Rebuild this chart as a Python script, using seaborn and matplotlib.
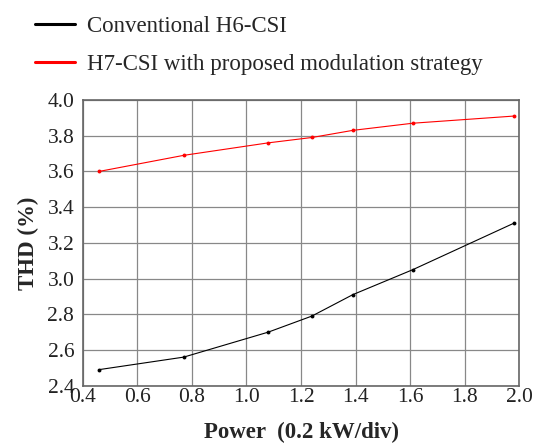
import matplotlib
matplotlib.use("Agg")
import matplotlib.pyplot as plt
import seaborn as sns
import pandas as pd
from matplotlib.lines import Line2D

power = [0.46, 0.77, 1.08, 1.24, 1.39, 1.61, 1.98]
thd_h6 = [2.49, 2.56, 2.70, 2.79, 2.91, 3.05, 3.31]
thd_h7 = [3.60, 3.69, 3.76, 3.79, 3.83, 3.87, 3.91]
series_names = ["Conventional H6-CSI", "H7-CSI with proposed modulation strategy"]
x_ticks = [0.4, 0.6, 0.8, 1.0, 1.2, 1.4, 1.6, 1.8, 2.0]
y_ticks = [2.4, 2.6, 2.8, 3.0, 3.2, 3.4, 3.6, 3.8, 4.0]

df = pd.DataFrame({
    "Power": power * 2,
    "THD": thd_h6 + thd_h7,
    "Series": [series_names[0]] * len(power) + [series_names[1]] * len(power),
})

sns.set_style("white")
plt.rcParams["font.family"] = ["Liberation Serif", "DejaVu Serif"]

W, H = 535, 443
fig = plt.figure(figsize=(W / 100, H / 100), dpi=100)
ax = fig.add_axes([82.7 / W, 1 - 385.7 / H, (519.3 - 82.7) / W, (385.7 - 100.0) / H])
colors = {series_names[0]: "#000000", series_names[1]: "#ff0000"}
sns.lineplot(data=df, x="Power", y="THD", hue="Series", palette=colors,
             marker="o", markersize=2.8, markeredgewidth=0, linewidth=0.8,
             legend=False, ax=ax)

ax.set_xlim(0.4, 2.0)
ax.set_ylim(2.4, 4.0)
ax.set_xticks(x_ticks)
ax.set_yticks(y_ticks)
ax.set_xticklabels([f"{v:.1f}" for v in x_ticks], fontsize=15.5)
ax.set_yticklabels([f"{v:.1f}" for v in y_ticks], fontsize=15.5)
ax.grid(True, color="#888888", linewidth=0.9)
for s in ax.spines.values():
    s.set_color("#666666")
    s.set_linewidth(1.2)
ax.tick_params(axis="x", length=0, pad=2, labelcolor="#222222")
ax.tick_params(axis="y", length=0, pad=6, labelcolor="#222222")
ax.set_xlabel("Power  (0.2 kW/div)", fontsize=16.5, fontweight="bold", labelpad=10.5)
ax.set_ylabel("THD (%)", fontsize=16.5, fontweight="bold", labelpad=6)

handles = [Line2D([0], [0], color="#000000", lw=2.2),
           Line2D([0], [0], color="#ff0000", lw=2.2)]
fig.legend(handles, series_names, loc="upper left", bbox_to_anchor=(35 / W, 1 - 16 / H),
           frameon=False, fontsize=16.5, handlelength=1.75, labelspacing=0.75,
           handletextpad=0.52, borderpad=0, borderaxespad=0)

fig.savefig("out.png", dpi=100)
